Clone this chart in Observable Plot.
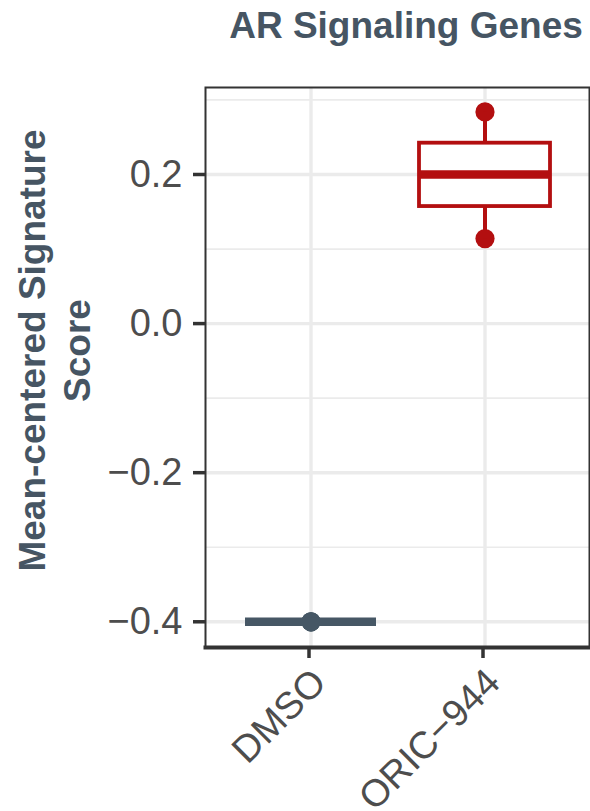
<!DOCTYPE html>
<html><head><meta charset="utf-8">
<script src="https://cdn.jsdelivr.net/npm/d3@7"></script>
<script src="https://cdn.jsdelivr.net/npm/@observablehq/plot@0.6"></script>
<style>
body{margin:0;background:#fff;}
#title{width:590px;height:60px;box-sizing:border-box;padding-left:222px;padding-top:7px;text-align:center;font:bold 37px "Liberation Sans",Arial,sans-serif;line-height:1;color:#465563;white-space:nowrap;}
</style></head><body>
<div id="chart"><div id="title">AR Signaling Genes</div></div>
<script>
const groups = ["DMSO", "ORIC-944"];
const dmsoValues = [-0.400, -0.400, -0.400];
const oricValues = [0.114, 0.200, 0.284];
const groupColors = ["#465765", "#B30F10"];
const yTicks = [-0.4, -0.2, 0.0, 0.2];
const yMinorTicks = [-0.3, -0.1, 0.1, 0.3];
const yTitle = "Mean-centered Signature\nScore";

const samples = [
  ...dmsoValues.map(v => ({group: "DMSO", value: v})),
  ...oricValues.map(v => ({group: "ORIC-944", value: v}))
];
const stats = groups.map(g => {
  const v = samples.filter(d => d.group === g).map(d => d.value).sort(d3.ascending);
  const q1 = d3.quantile(v, 0.25), med = d3.quantile(v, 0.5), q3 = d3.quantile(v, 0.75);
  const iqr = q3 - q1;
  const lo = d3.min(v.filter(x => x >= q1 - 1.5 * iqr));
  const hi = d3.max(v.filter(x => x <= q3 + 1.5 * iqr));
  return {group: g, q1, med, q3, lo, hi};
});

const chart = Plot.plot({
  width: 590, height: 751,
  marginTop: 27, marginBottom: 164, marginLeft: 205, marginRight: 1,
  style: {fontFamily: '"Liberation Sans", Arial, sans-serif', background: "#fff"},
  x: {type: "band", domain: groups, paddingInner: 0.25, paddingOuter: 0.225, label: null},
  y: {domain: [-0.4345, 0.3167], label: null},
  color: {domain: groups, range: groupColors},
  marks: [
    Plot.gridY(yMinorTicks, {stroke: "#ebebeb", strokeOpacity: 1, strokeWidth: 1.7}),
    Plot.gridY(yTicks, {stroke: "#ebebeb", strokeOpacity: 1, strokeWidth: 3.4}),
    Plot.gridX(groups, {stroke: "#ebebeb", strokeOpacity: 1, strokeWidth: 3.4}),
    Plot.dot(samples, {x: "group", y: "value", r: 9.6, fill: "group"}),
    Plot.ruleX(stats, {x: "group", y1: "q3", y2: "hi", stroke: "group", strokeWidth: 4}),
    Plot.ruleX(stats, {x: "group", y1: "lo", y2: "q1", stroke: "group", strokeWidth: 4}),
    Plot.barY(stats, {x: "group", y1: "q1", y2: "q3", fill: "white", stroke: "group", strokeWidth: 3.8}),
    Plot.tickY(stats, {x: "group", y: "med", stroke: "group", strokeWidth: 8.5}),
    Plot.frame({stroke: "#333", strokeWidth: 2}),
    Plot.frame({anchor: "bottom", stroke: "#333", strokeWidth: 4}),
    Plot.axisY(yTicks, {tickSize: 12, tickPadding: 11, stroke: "#333", strokeWidth: 3.5, fill: "#4d4d4d", fontSize: 38, tickFormat: ".1f"}),
    Plot.axisX(groups, {tickSize: 11, tickPadding: 7, dx: -2, tickRotate: -45, textAnchor: "end", lineAnchor: "top", stroke: "#333", strokeWidth: 3.5, fill: "#4d4d4d", fontSize: 38, tickFormat: d => d.replace("-", "\u2212")}),
    Plot.text([yTitle], {frameAnchor: "left", rotate: -90, dx: -152.5, dy: -17, fontSize: 37, fontWeight: "bold", fill: "#465563", lineHeight: 1.22, textAnchor: "middle", lineAnchor: "middle"})
  ]
});
document.getElementById("chart").appendChild(chart);
</script>
</body></html>
